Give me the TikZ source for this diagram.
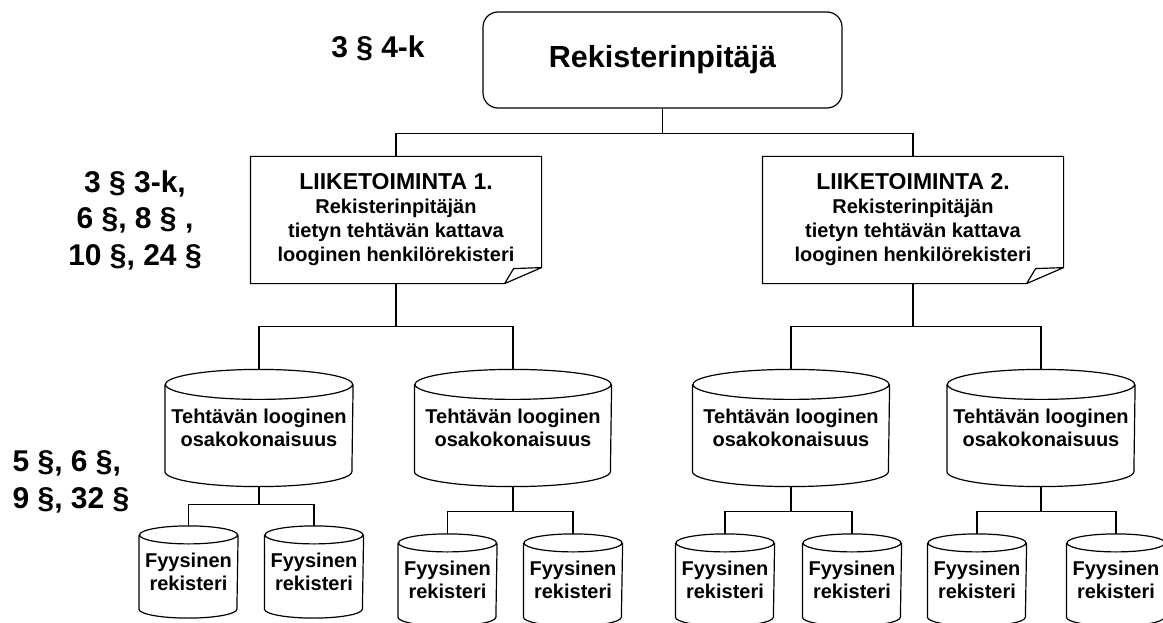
\documentclass[tikz,border=0pt]{standalone}
\usepackage{fontspec}
\setmainfont{Liberation Sans}
\usetikzlibrary{positioning}

\tikzset{
  rootbox/.style={draw, rounded corners=15pt, minimum width=359pt, minimum height=96pt,
    font=\bfseries\fontsize{30.5}{36}\selectfont},
  docbox/.style={minimum height=126pt, align=center, inner sep=0pt,
    font=\bfseries\fontsize{20}{24}\selectfont},
  bigcyl/.style={minimum height=116pt, align=center, inner sep=0pt,
    font=\bfseries\fontsize{20}{23.5}\selectfont, execute at begin node={\rule{0pt}{31pt}}},
  smallcyl/.style={minimum width=98pt, minimum height=91pt, align=center, inner sep=0pt,
    font=\bfseries\fontsize{20}{23}\selectfont, execute at begin node={\rule{0pt}{25pt}}},
  lawtext/.style={inner sep=0pt, font=\bfseries\fontsize{30}{36.5}\selectfont},
}

\begin{document}
\begin{tikzpicture}[x=1pt, y=-1pt, line width=1.2pt]
  \useasboundingbox (0,0) rectangle (1163,623);

  \node[rootbox] (root) at (662.5,60) {Rekisterinpitäjä};
  \node[lawtext] (law1) at (378,48) {3 § 4-k};
  \node[lawtext, align=center] (law2) at (135,220) {3 § 3-k,\\6 §, 8 § ,\\10 §, 24 §};
  \node[lawtext, align=left, anchor=west] (law3) at (12,482) {5 §, 6 §,\\9 §, 32 §};

  \node[docbox, minimum width=290pt] (lb1) at (396,220)
    {{\fontsize{23}{27}\selectfont LIIKETOIMINTA 1.}\\Rekisterinpitäjän\\tietyn tehtävän kattava\\looginen henkilörekisteri};
  \node[docbox, minimum width=300pt] (lb2) at (913,220)
    {{\fontsize{23}{27}\selectfont LIIKETOIMINTA 2.}\\Rekisterinpitäjän\\tietyn tehtävän kattava\\looginen henkilörekisteri};

  \node[bigcyl, minimum width=187pt] (t1) at (259,428) {Tehtävän looginen\\osakokonaisuus};
  \node[bigcyl, minimum width=196pt] (t2) at (513,428) {Tehtävän looginen\\osakokonaisuus};
  \node[bigcyl, minimum width=196pt] (t3) at (791,428) {Tehtävän looginen\\osakokonaisuus};
  \node[bigcyl, minimum width=187pt] (t4) at (1041,428) {Tehtävän looginen\\osakokonaisuus};

  \node[smallcyl] (f1) at (188.5,572) {Fyysinen\\rekisteri};
  \node[smallcyl] (f2) at (314,572) {Fyysinen\\rekisteri};
  \node[smallcyl] (f3) at (447.5,580) {Fyysinen\\rekisteri};
  \node[smallcyl] (f4) at (573,580) {Fyysinen\\rekisteri};
  \node[smallcyl] (f5) at (725,580) {Fyysinen\\rekisteri};
  \node[smallcyl] (f6) at (852,580) {Fyysinen\\rekisteri};
  \node[smallcyl] (f7) at (977,580) {Fyysinen\\rekisteri};
  \node[smallcyl] (f8) at (1116,580) {Fyysinen\\rekisteri};

  % document outlines with folded corner
  \foreach \c in {lb1,lb2}
    \draw (\c.north west) -- (\c.north east) -- ([yshift=16pt]\c.south east)
      -- ([xshift=-37pt]\c.south east) -- (\c.south west) -- cycle
      ([yshift=16pt]\c.south east) -- ([xshift=-28pt,yshift=15pt]\c.south east)
      -- ([xshift=-37pt]\c.south east);

  % cylinders
  \foreach \c/\r in {t1/93.5,t2/98,t3/98,t4/93.5}
    \draw ([yshift=-15pt]\c.north west) -- ([yshift=15pt]\c.south west)
      arc[start angle=180, end angle=360, x radius=\r pt, y radius=15pt]
      -- ([yshift=-15pt]\c.north east)
      ([yshift=-15pt]\c.north) ellipse[x radius=\r pt, y radius=15pt];
  \foreach \c in {f1,f2,f3,f4,f5,f6,f7,f8}
    \draw ([yshift=-9pt]\c.north west) -- ([yshift=9pt]\c.south west)
      arc[start angle=180, end angle=360, x radius=49pt, y radius=9pt]
      -- ([yshift=-9pt]\c.north east)
      ([yshift=-9pt]\c.north) ellipse[x radius=49pt, y radius=9pt];

  % connectors
  \draw (root.south) -- ++(0,25) -| (lb1.north);
  \draw (root.south) -- ++(0,25) -| (lb2.north);
  \foreach \p/\a/\b/\d in {lb1/t1/t2/43, lb2/t3/t4/43}{
    \draw (\p.south) -- ++(0,\d) -| (\a.north);
    \draw (\p.south) -- ++(0,\d) -| (\b.north);
  }
  \foreach \p/\a/\b/\d in {t1/f1/f2/18, t2/f3/f4/25, t3/f5/f6/25, t4/f7/f8/25}{
    \draw (\p.south) -- ++(0,\d) -| (\a.north);
    \draw (\p.south) -- ++(0,\d) -| (\b.north);
  }
\end{tikzpicture}
\end{document}
